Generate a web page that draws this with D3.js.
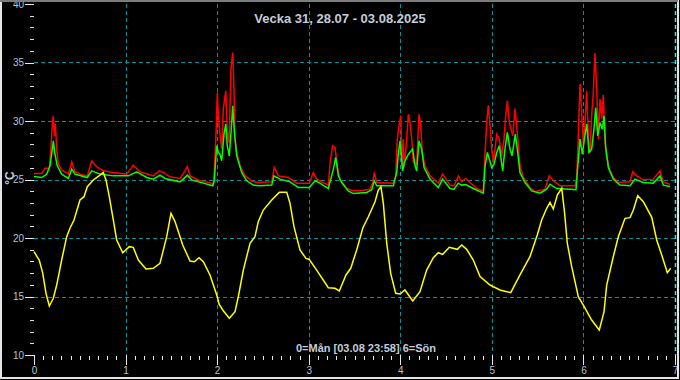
<!DOCTYPE html>
<html lang="sv">
<head>
<meta charset="UTF-8">
<title>Vecka 31</title>
<script src="https://d3js.org/d3.v7.min.js"></script>
<style>
  body { margin: 0; padding: 0; background: #000; overflow: hidden; }
  svg { display: block; font-family: "Liberation Sans", Arial, sans-serif; }
  .grid line { stroke: #0a8f96; stroke-width: 1; stroke-dasharray: 4,3; }
  .axis path.domain { display: none; }
  .axis line { stroke: #e8e8e8; shape-rendering: crispEdges; }
  .axis text { font-size: 10px; fill: #b4c4d8; }
  .series { fill: none; stroke-width: 1.5; stroke-linejoin: miter; }
</style>
</head>
<body>
<svg id="chart" width="680" height="380"></svg>
<script>
// time in days (0 = Mon), values in °C
const yellowT = [0, 0.058, 0.095, 0.131, 0.167, 0.211, 0.248, 0.302, 0.357, 0.393,
  0.437, 0.502, 0.546, 0.582, 0.648, 0.721, 0.757, 0.786, 0.822, 0.866,
  0.903, 0.969, 1.041, 1.084, 1.139, 1.223, 1.303, 1.376, 1.449, 1.496,
  1.540, 1.624, 1.704, 1.751, 1.802, 1.849, 1.922, 2.002, 2.020, 2.061,
  2.133, 2.195, 2.231, 2.286, 2.359, 2.413, 2.449, 2.504, 2.596, 2.679,
  2.760, 2.796, 2.839, 2.905, 2.970, 3.006, 3.087, 3.214, 3.287, 3.334,
  3.407, 3.459, 3.524, 3.590, 3.651, 3.724, 3.760, 3.789, 3.815, 3.852,
  3.895, 3.950, 3.997, 4.051, 4.136, 4.215, 4.288, 4.361, 4.415, 4.463,
  4.535, 4.623, 4.671, 4.725, 4.797, 4.871, 4.980, 5.089, 5.206, 5.307,
  5.416, 5.496, 5.544, 5.599, 5.635, 5.671, 5.715, 5.763, 5.791, 5.824,
  5.872, 5.944, 5.999, 6.090, 6.173, 6.225, 6.254, 6.326, 6.381, 6.454,
  6.509, 6.545, 6.593, 6.654, 6.746, 6.800, 6.855, 6.916, 6.953];
const yellowV = [18.83, 18.1, 17.0, 15.27, 14.19, 14.85, 15.98, 18.12, 20.11, 20.83,
  21.54, 23.25, 23.53, 24.38, 24.96, 25.38, 25.6, 24.96, 23.53, 21.54,
  19.83, 18.74, 19.26, 19.2, 18.12, 17.35, 17.41, 17.84, 20.11, 22.1,
  21.4, 19.4, 18.03, 17.97, 18.32, 17.97, 16.84, 14.98, 14.36, 13.85,
  13.14, 13.7, 14.98, 17.26, 19.55, 20.11, 21.4, 22.39, 23.25, 23.9,
  23.9, 22.96, 20.97, 18.97, 18.26, 18.17, 17.26, 15.75, 15.7, 15.47,
  16.84, 17.41, 18.97, 20.83, 21.82, 23.1, 24.1, 24.38, 22.96, 19.55,
  16.98, 15.27, 15.21, 15.56, 14.62, 15.41, 17.26, 18.32, 18.74, 18.6,
  19.2, 19.03, 19.4, 19.03, 18.12, 16.7, 15.98, 15.56, 15.33, 16.84,
  18.4, 20.26, 21.54, 22.54, 23.05, 22.48, 23.67, 24.25, 22.39, 19.55,
  17.55, 14.98, 14.27, 12.99, 12.14, 13.7, 15.98, 18.4, 20.11, 21.68,
  21.74, 22.39, 23.61, 23.1, 21.77, 19.83, 18.55, 17.03, 17.41];

const redT = [0, 0.084, 0.120, 0.167, 0.182, 0.200, 0.211, 0.222, 0.233, 0.248,
  0.265, 0.302, 0.375, 0.412, 0.448, 0.502, 0.582, 0.630, 0.685, 0.757,
  0.866, 1.012, 1.084, 1.158, 1.303, 1.368, 1.412, 1.485, 1.594, 1.649,
  1.674, 1.704, 1.813, 1.941, 1.958, 1.969, 1.988, 2.002, 2.013, 2.031,
  2.050, 2.067, 2.094, 2.111, 2.130, 2.151, 2.170, 2.184, 2.195, 2.214,
  2.250, 2.304, 2.377, 2.432, 2.596, 2.624, 2.668, 2.777, 2.869, 3.006,
  3.050, 3.087, 3.214, 3.233, 3.262, 3.287, 3.312, 3.342, 3.415, 3.487,
  3.560, 3.669, 3.699, 3.716, 3.742, 3.924, 3.950, 3.967, 3.986, 4.005,
  4.019, 4.033, 4.044, 4.070, 4.088, 4.106, 4.125, 4.142, 4.179, 4.204,
  4.223, 4.240, 4.270, 4.325, 4.415, 4.463, 4.543, 4.587, 4.634, 4.671,
  4.714, 4.761, 4.835, 4.907, 4.922, 4.944, 4.961, 4.980, 4.998, 5.016,
  5.034, 5.053, 5.081, 5.107, 5.133, 5.151, 5.169, 5.191, 5.209, 5.228,
  5.253, 5.271, 5.289, 5.307, 5.343, 5.416, 5.471, 5.580, 5.627, 5.671,
  5.744, 5.908, 5.926, 5.944, 5.963, 5.981, 5.999, 6.017, 6.036, 6.054,
  6.072, 6.090, 6.108, 6.126, 6.145, 6.163, 6.181, 6.200, 6.217, 6.236,
  6.254, 6.283, 6.326, 6.381, 6.509, 6.538, 6.582, 6.654, 6.763, 6.836,
  6.872, 6.945];
const redV = [25.51, 25.51, 25.97, 25.97, 27.31, 29.73, 30.44, 28.73, 29.73, 27.6,
  26.31, 25.83, 25.46, 26.51, 25.66, 25.46, 25.31, 26.6, 26.08, 25.74,
  25.6, 25.46, 26.23, 25.66, 25.31, 25.74, 25.6, 25.23, 25.09, 25.74,
  26.11, 25.31, 24.89, 24.69, 24.52, 25.74, 29.02, 32.44, 30.44, 28.87,
  27.6, 31.01, 32.58, 29.16, 28.16, 34.43, 35.85, 32.72, 28.59, 27.31,
  26.17, 25.31, 24.89, 24.74, 24.8, 26.03, 25.31, 25.17, 24.69, 24.69,
  25.6, 25.03, 24.52, 26.45, 27.88, 27.74, 26.17, 25.03, 24.23, 24.03,
  24.03, 24.17, 24.74, 25.6, 24.74, 24.69, 25.31, 28.45, 29.59, 30.44,
  26.17, 28.45, 26.03, 28.45, 30.58, 29.87, 28.45, 26.45, 26.31, 30.58,
  29.73, 27.31, 26.17, 25.31, 24.69, 25.46, 24.52, 24.46, 25.31, 24.8,
  25.09, 24.74, 24.23, 24.03, 26.74, 29.87, 31.35, 29.59, 27.59, 26.45,
  27.6, 28.87, 28.45, 27.02, 28.45, 30.44, 31.72, 29.87, 29.3, 28.73,
  31.07, 29.59, 27.88, 26.17, 25.17, 24.32, 23.95, 24.17, 25.31, 24.89,
  24.46, 24.46, 25.03, 28.73, 33.15, 30.73, 27.88, 29.87, 32.58, 28.45,
  27.31, 30.44, 32.44, 35.8, 32.72, 28.45, 31.87, 30.16, 32.21, 28.16,
  27.02, 25.88, 25.17, 24.74, 24.8, 25.66, 25.31, 24.97, 25.03, 25.74,
  24.8, 24.6];

const greenT = [0, 0.084, 0.139, 0.175, 0.200, 0.211, 0.229, 0.254, 0.302, 0.375,
  0.412, 0.448, 0.582, 0.630, 0.721, 0.866, 1.030, 1.122, 1.231, 1.303,
  1.376, 1.431, 1.594, 1.630, 1.674, 1.722, 1.849, 1.952, 1.969, 1.995,
  2.013, 2.031, 2.050, 2.075, 2.094, 2.111, 2.133, 2.159, 2.170, 2.188,
  2.214, 2.268, 2.323, 2.395, 2.468, 2.596, 2.621, 2.686, 2.796, 2.886,
  3.006, 3.069, 3.123, 3.214, 3.269, 3.295, 3.323, 3.360, 3.432, 3.487,
  3.633, 3.688, 3.716, 3.742, 3.924, 3.961, 3.978, 3.997, 4.026, 4.044,
  4.088, 4.136, 4.161, 4.179, 4.204, 4.234, 4.259, 4.325, 4.415, 4.463,
  4.543, 4.587, 4.634, 4.671, 4.714, 4.797, 4.907, 4.926, 4.951, 4.972,
  4.998, 5.024, 5.053, 5.081, 5.118, 5.143, 5.169, 5.198, 5.220, 5.256,
  5.282, 5.307, 5.362, 5.435, 5.526, 5.599, 5.635, 5.708, 5.854, 5.919,
  5.937, 5.963, 5.988, 6.010, 6.036, 6.061, 6.090, 6.115, 6.134, 6.156,
  6.181, 6.206, 6.225, 6.243, 6.272, 6.326, 6.399, 6.509, 6.563, 6.654,
  6.763, 6.836, 6.872, 6.945];
const greenV = [25.26, 25.17, 25.46, 26.17, 27.6, 28.3, 27.16, 26.17, 25.46, 25.09,
  25.88, 25.46, 25.17, 25.74, 25.46, 25.31, 25.31, 25.66, 25.17, 25.03,
  25.37, 25.09, 24.8, 25.03, 25.37, 24.97, 24.69, 24.46, 24.89, 27.88,
  27.31, 27.16, 26.6, 28.87, 29.73, 27.88, 27.02, 29.87, 31.3, 29.02,
  27.02, 25.6, 24.89, 24.52, 24.46, 24.52, 25.31, 25.03, 24.8, 24.32,
  24.32, 24.89, 24.69, 24.23, 25.88, 26.88, 25.31, 24.74, 24.03, 23.8,
  23.89, 24.12, 24.89, 24.46, 24.46, 25.6, 27.16, 28.3, 25.74, 26.45,
  27.16, 27.6, 26.17, 25.74, 28.3, 27.6, 26.03, 25.03, 24.32, 25.03,
  24.23, 24.17, 24.69, 24.52, 24.57, 24.23, 23.83, 26.17, 27.31, 26.74,
  26.03, 26.31, 27.31, 27.88, 25.74, 27.6, 29.02, 27.6, 27.02, 28.87,
  27.31, 25.6, 24.74, 24.03, 23.83, 24.17, 24.6, 24.23, 24.17, 24.12,
  26.03, 28.45, 27.16, 28.45, 29.73, 27.31, 27.6, 29.3, 31.15, 28.73,
  29.87, 29.3, 30.44, 27.74, 26.03, 25.03, 24.52, 24.46, 25.03, 24.74,
  24.69, 25.31, 24.52, 24.4];

const dayTicks = [0, 1, 2, 3, 4, 5, 6, 7];
const tempTicks = [10, 15, 20, 25, 30, 35, 40];
const title = "Vecka 31, 28.07 - 03.08.2025";
const footer = "0=Mån [03.08 23:58] 6=Sön";

const svg = d3.select("#chart");
const W = 680, H = 380;

const x = d3.scaleLinear().domain([0, 7]).range([34, 675]);
const y = d3.scaleLinear().domain([10, 40]).range([355, 4]);

svg.append("rect").attr("width", W).attr("height", H).attr("fill", "#000");

// grid
const grid = svg.append("g").attr("class", "grid");
grid.selectAll(".h").data(tempTicks.filter(t => t > 10 && t < 40)).enter()
  .append("line")
  .attr("x1", x(0)).attr("x2", x(7))
  .attr("y1", d => Math.round(y(d)) + 0.5).attr("y2", d => Math.round(y(d)) + 0.5);
grid.selectAll(".v").data(dayTicks.filter(t => t > 0)).enter()
  .append("line")
  .attr("x1", d => Math.round(x(d)) + 0.5).attr("x2", d => Math.round(x(d)) + 0.5)
  .attr("y1", y(40)).attr("y2", y(10))
  .style("stroke", d => d === 7 ? "#38e4f4" : null)
  .style("stroke-width", d => d === 7 ? 1.5 : null);

// y axis: major + minor ticks
svg.append("g").attr("class", "axis")
  .attr("transform", `translate(${x(0)},0)`)
  .call(d3.axisLeft(y).tickValues(d3.range(10, 41, 1)).tickSize(4).tickFormat(""));
svg.append("g").attr("class", "axis")
  .attr("transform", `translate(${x(0)},0)`)
  .call(d3.axisLeft(y).tickValues(tempTicks).tickSize(9).tickPadding(1));

// x axis: minor ticks every 0.1 day, major every day
svg.append("g").attr("class", "axis")
  .attr("transform", `translate(0,${y(10) + 1})`)
  .call(d3.axisBottom(x).tickValues(d3.range(0, 70).map(i => i / 10)).tickSize(4).tickFormat(""));
svg.append("g").attr("class", "axis")
  .attr("transform", `translate(0,${y(10)})`)
  .call(d3.axisBottom(x).tickValues(dayTicks).tickSize(10).tickPadding(2).tickFormat(d3.format("d")));

// series
const line = d3.line().x(d => x(d[0])).y(d => y(d[1]));
svg.append("path").attr("class", "series")
  .attr("stroke", "#ff0000").attr("d", line(d3.zip(redT, redV)));
svg.append("path").attr("class", "series")
  .attr("stroke", "#00ff00").attr("d", line(d3.zip(greenT, greenV)));
svg.append("path").attr("class", "series")
  .attr("stroke", "#ffff00").attr("d", line(d3.zip(yellowT, yellowV)));

// texts
svg.append("text")
  .attr("x", 340).attr("y", 22.5)
  .attr("text-anchor", "middle")
  .attr("font-size", 13).attr("font-weight", "bold")
  .attr("fill", "#c4ccdc")
  .text(title);

svg.append("text")
  .attr("x", 366).attr("y", 352)
  .attr("text-anchor", "middle")
  .attr("font-size", 11).attr("font-weight", "bold")
  .attr("fill", "#c4ccdc")
  .text(footer);

svg.append("text")
  .attr("transform", "translate(14,178) rotate(-90)")
  .attr("text-anchor", "middle")
  .attr("font-size", 12).attr("font-weight", "bold")
  .attr("fill", "#c4ccdc")
  .text("°C");

// frame
svg.append("rect")
  .attr("x", 1).attr("y", 1).attr("width", W - 3).attr("height", H - 3)
  .attr("fill", "none").attr("stroke", "#e4e4e4").attr("stroke-width", 2);
svg.append("line")
  .attr("x1", 0).attr("x2", W - 2).attr("y1", 1).attr("y2", 1)
  .attr("stroke", "#7c7c7c").attr("stroke-width", 2);
</script>
</body>
</html>
